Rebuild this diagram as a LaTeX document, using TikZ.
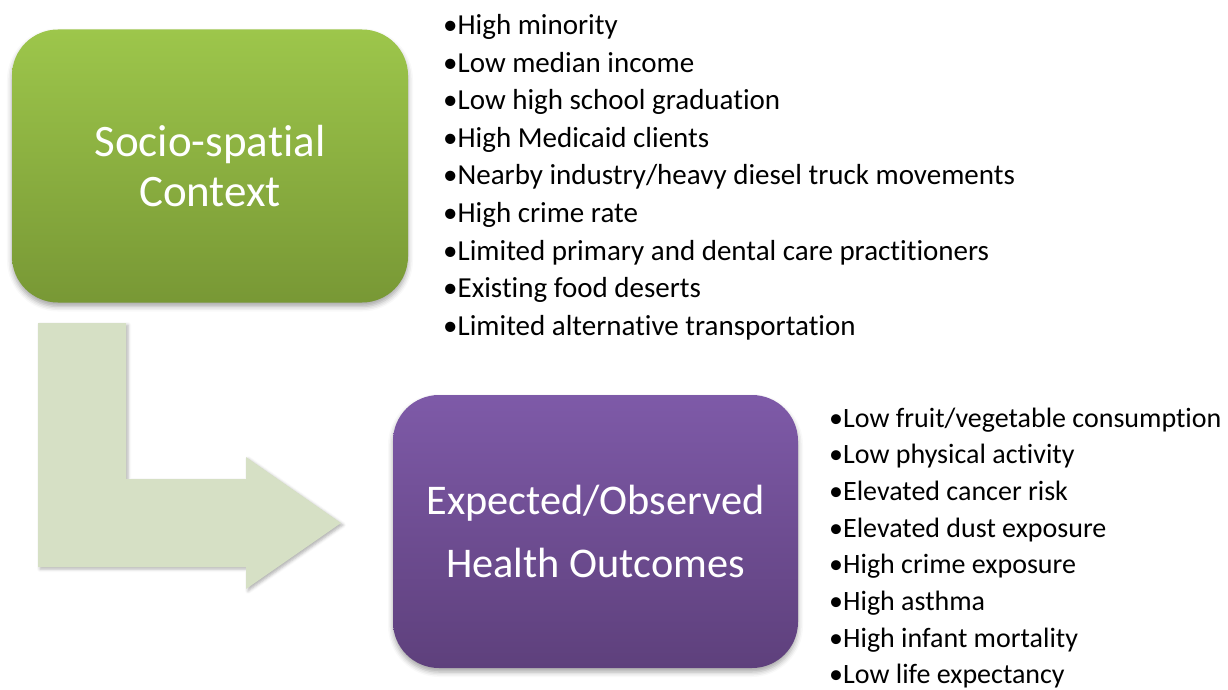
\documentclass[tikz,border=0pt]{standalone}
\usepackage{fontspec}
\setmainfont{Carlito}[Ligatures=NoCommon]
\usetikzlibrary{shadows.blur}

\definecolor{ctxtop}{HTML}{9DC64B}
\definecolor{ctxbot}{HTML}{789835}
\definecolor{outtop}{HTML}{7E5AA8}
\definecolor{outbot}{HTML}{5E407C}
\definecolor{bendfill}{HTML}{D6E0C5}

\begin{document}
\begin{tikzpicture}[x=1pt,y=-1pt,
    box/.style={rectangle, rounded corners=46pt, text=white, align=center, inner sep=0pt,
      blur shadow={shadow xshift=0pt, shadow yshift=-4pt, shadow blur radius=5pt, shadow opacity=35}},
    item/.style={anchor=base west, inner sep=0pt, font=\fontsize{28}{34}\selectfont}]
  \useasboundingbox (0,0) rectangle (1228,690);
  % bent arrow between the two boxes
  \fill[bendfill, blur shadow={shadow xshift=2pt, shadow yshift=-2pt, shadow blur radius=3pt, shadow opacity=30}]
    (38,323) -- (126,323) -- (126,479) -- (246,479) -- (246,457) -- (341,523)
    -- (246,589) -- (246,567) -- (38,567) -- cycle;
  % boxes
  \node[box, minimum width=396pt, minimum height=273pt, top color=ctxtop, bottom color=ctxbot,
    font=\fontsize{45}{50}\selectfont] (context) at (210,166) {Socio-spatial\\Context};
  \node[box, minimum width=405pt, minimum height=273pt, top color=outtop, bottom color=outbot,
    font=\fontsize{42.3}{65}\selectfont] (outcomes) at (595.5,531.5) {Expected/Observed\\[-2pt]Health Outcomes};
  % context list
  \foreach \txt [count=\i from 0] in {High minority, Low median income, Low high school graduation,
      High Medicaid clients, Nearby industry/heavy diesel truck movements, High crime rate,
      Limited primary and dental care practitioners, Existing food deserts,
      Limited alternative transportation}
    \node[item, font=\fontsize{29}{34}\selectfont] (ctx-\i) at (443,34.5+37.6*\i) {•\txt};
  % outcome list
  \foreach \txt [count=\i from 0] in {Low fruit/vegetable consumption, Low physical activity,
      Elevated cancer risk, Elevated dust exposure, High crime exposure, High asthma,
      High infant mortality, Low life expectancy}
    \node[item] (out-\i) at (829,427+36.7*\i) {•\txt};
\end{tikzpicture}
\end{document}
